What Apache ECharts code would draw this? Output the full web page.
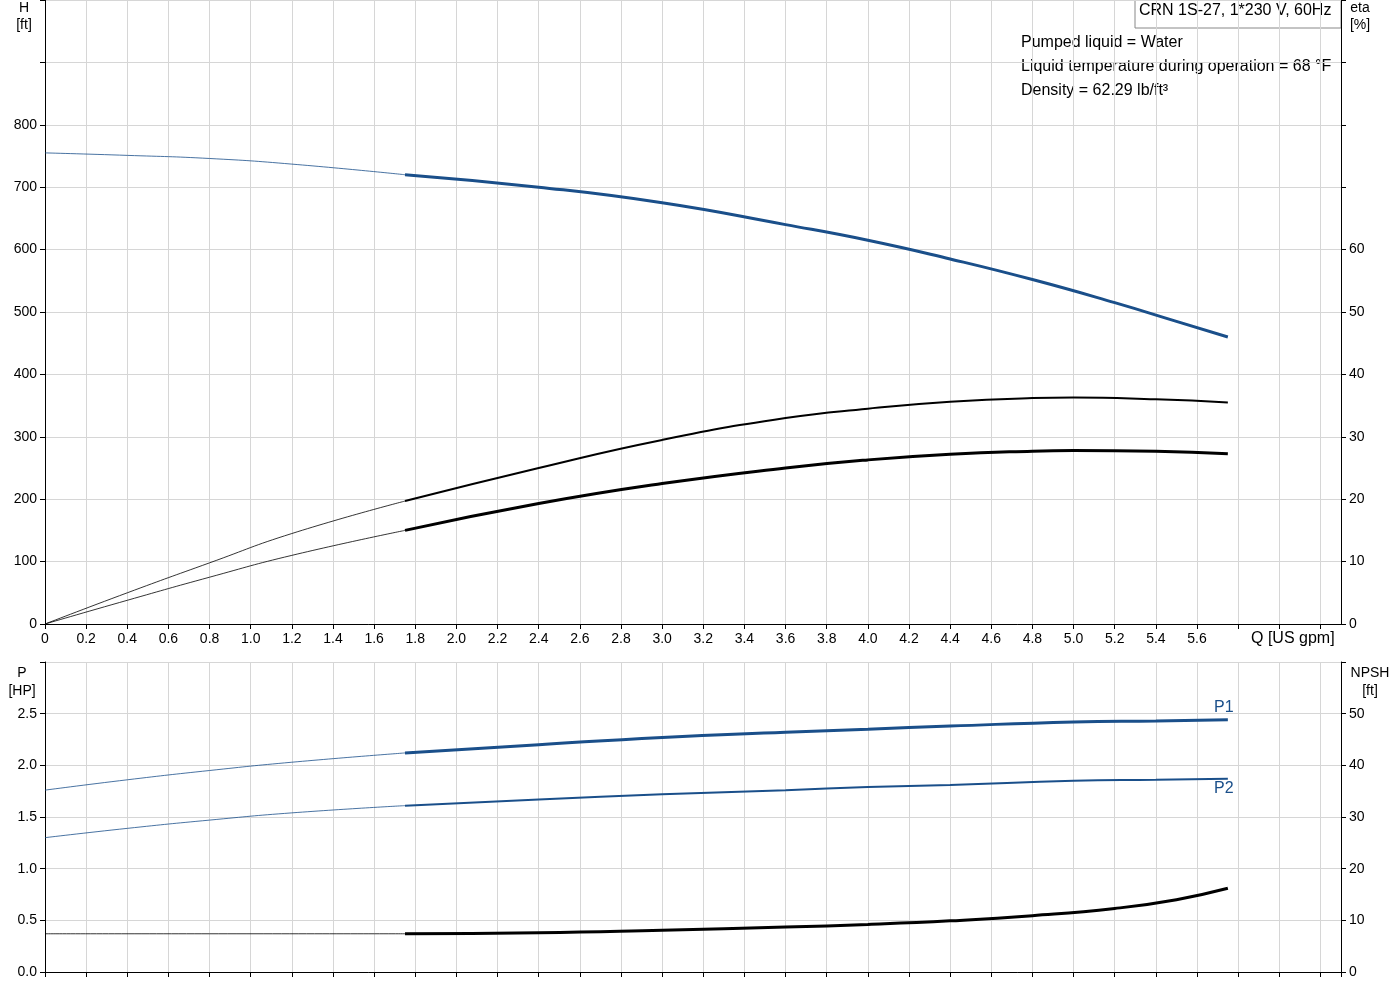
<!DOCTYPE html><html><head><meta charset="utf-8"><script src="https://cdn.jsdelivr.net/npm/echarts@6/dist/echarts.min.js"></script>
<style>html,body{margin:0;padding:0;background:#fff}#c{width:1400px;height:1000px}</style></head><body><div id="c"></div><script>
const qH=[0,0.4,0.8,1.2,1.75,2.4,3.0,3.6,4.0,4.4,4.8,5.2,5.5,5.75];
const H=[755,751,746,737,720,700,675,640,615,585,552,515,485,460];
const qE=[0,0.4,0.8,1.2,1.75,2.4,3.0,3.6,4.0,4.4,4.8,5.0,5.4,5.75];
const eta1=[0,5,9.8,14.5,19.7,25,29.5,33,34.5,35.6,36.2,36.3,36,35.5];
const eta2=[0,3.8,7.5,11,15,19.3,22.5,25,26.3,27.2,27.7,27.8,27.7,27.3];
const qP=[0,0.4,0.8,1.2,1.75,2.4,3.0,3.6,4.0,4.4,5.0,5.4,5.75];
const P1=[1.76,1.86,1.95,2.03,2.12,2.2,2.27,2.32,2.35,2.38,2.42,2.43,2.44];
const P2=[1.3,1.39,1.47,1.54,1.61,1.67,1.72,1.76,1.79,1.81,1.85,1.86,1.87];
const qN=[0,0.8,1.75,2.4,3.0,3.6,4.0,4.4,4.8,5.2,5.5,5.75];
const NPSH=[7.4,7.4,7.4,7.6,8.1,8.7,9.2,9.9,10.9,12.3,14,16.2];
const BLUE='#1a4f8a';
function pts(q,v,lo,hi){const r=[];q.forEach((x,i)=>{if(x>=lo-1e-9&&x<=hi+1e-9)r.push([x,v[i]]);});return r;}
function seg(q,v,x,y,col,w1,w2){return [
 {type:'line',xAxisIndex:x,yAxisIndex:y,data:pts(q,v,0,1.75),smooth:true,showSymbol:false,lineStyle:{color:col,width:w1},silent:true},
 {type:'line',xAxisIndex:x,yAxisIndex:y,data:pts(q,v,1.75,6),smooth:true,showSymbol:false,lineStyle:{color:col,width:w2},silent:true}];}
const lab={color:'#000',fontFamily:'Arial, Liberation Sans',fontSize:14};
const gl={lineStyle:{color:'#d6d6d6',width:1}};
function xax(gi,show){return {type:'value',gridIndex:gi,min:0,max:6.3,interval:0.2,
 axisLine:{onZero:false,lineStyle:{color:'#000'}},axisTick:{show:true,inside:false,lineStyle:{color:'#000'}},
 splitLine:Object.assign({show:true},gl),
 axisLabel:Object.assign({show:show,showMaxLabel:false,formatter:v=>v>5.7?'':(Math.abs(v)<1e-9?'0':v.toFixed(1))},lab)};}
function yax(gi,pos,min,max,iv,lim,split,dec){return {type:'value',gridIndex:gi,position:pos,min:min,max:max,interval:iv,
 axisLine:{show:true,lineStyle:{color:'#000'}},axisTick:{show:true,length:5,lineStyle:{color:'#000'}},
 splitLine:Object.assign({show:split},gl),
 axisLabel:Object.assign({showMaxLabel:true,formatter:v=>v>lim+1e-9?'':(dec?v.toFixed(dec):String(v))},lab)};}
const chart=echarts.init(document.getElementById('c'));
const t15=Object.assign({},lab,{fontSize:16});
chart.setOption({animation:false,
grid:[{left:45,right:59,top:0,bottom:376},{left:45,right:59,top:662,bottom:28}],
xAxis:[xax(0,true),xax(1,false)],
yAxis:[yax(0,'left',0,1000,100,800,true,0),yax(0,'right',0,100,10,60,false,0),
 yax(1,'left',0,3,0.5,2.5,true,1),yax(1,'right',0,60,10,50,false,0)],
series:[].concat(seg(qH,H,0,0,BLUE,0.8,3),seg(qE,eta1,0,1,'#000',0.8,2),seg(qE,eta2,0,1,'#000',0.8,3),
 seg(qP,P1,1,2,BLUE,0.8,3),seg(qP,P2,1,2,BLUE,0.8,2),seg(qN,NPSH,1,3,'#000',0.8,3)),
graphic:[
 {type:'rect',shape:{x:1016,y:30,width:324,height:74},style:{fill:'#fff'}},
 {type:'rect',shape:{x:1135,y:-1,width:206,height:29},style:{fill:'#fff',stroke:'#888',lineWidth:1}},
 {type:'text',x:1139,y:3,style:Object.assign({text:'CRN 1S-27, 1*230 V, 60Hz'},t15)},
 {type:'text',x:1021,y:35,style:Object.assign({text:'Pumped liquid = Water'},t15)},
 {type:'text',x:1021,y:59,style:Object.assign({text:'Liquid temperature during operation = 68 °F'},t15)},
 {type:'text',x:1021,y:83,style:Object.assign({text:'Density = 62.29 lb/ft³'},t15)},
 {type:'text',x:24,y:0,style:Object.assign({text:'H\n[ft]',align:'center',lineHeight:17},lab)},
 {type:'text',x:1360,y:0,style:Object.assign({text:'eta\n[%]',align:'center',lineHeight:17},lab)},
 {type:'text',x:1251,y:631,style:Object.assign({text:'Q [US gpm]'},t15)},
 {type:'text',x:22,y:664,style:Object.assign({text:'P\n[HP]',align:'center',lineHeight:18},lab)},
 {type:'text',x:1370,y:664,style:Object.assign({text:'NPSH\n[ft]',align:'center',lineHeight:18},lab)},
 {type:'text',x:1214,y:700,style:Object.assign({},t15,{text:'P1',fill:BLUE})},
 {type:'text',x:1214,y:781,style:Object.assign({},t15,{text:'P2',fill:BLUE})}
]});
</script></body></html>
